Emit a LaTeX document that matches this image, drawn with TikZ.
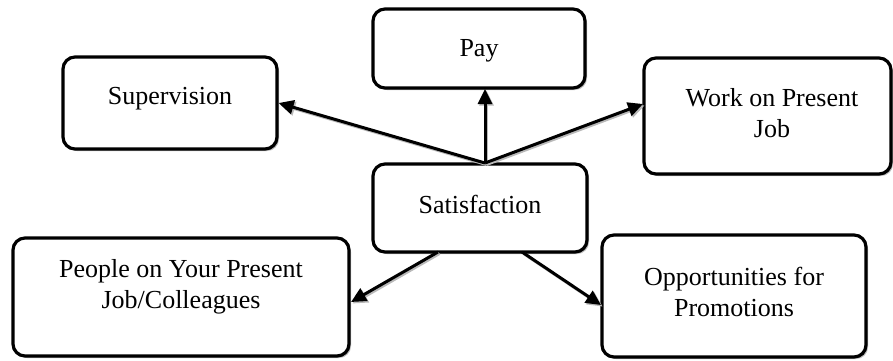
\documentclass[tikz,border=0pt]{standalone}
\usepackage{fontspec}
\setmainfont{Liberation Serif}
\usetikzlibrary{arrows.meta,shadows}
\begin{document}
\begin{tikzpicture}[x=1pt,y=-1pt,
  box/.style={draw, line width=3.2pt, rounded corners=12pt, fill=white, inner sep=0pt,
    drop shadow={shadow xshift=2pt, shadow yshift=-2pt, fill=gray!55, opacity=1}},
  lbl/.style={font=\fontsize{26}{31}\selectfont, align=center, inner sep=0pt, anchor=base},
  arr/.style={line width=3pt, -{Triangle[length=15pt,width=14pt]}},
  arrsh/.style={line width=3pt, draw=gray!55, -{Triangle[length=15pt,width=14pt]},
    transform canvas={shift={(1.5pt,-1.5pt)}}}]
\useasboundingbox (0,0) rectangle (893,360);
% boxes
\node[box, minimum width=212pt, minimum height=79pt] (pay) at (479,48.5) {};
\node[box, minimum width=214pt, minimum height=92pt] (sup) at (170,103) {};
\node[box, minimum width=247pt, minimum height=116pt] (work) at (767.5,116) {};
\node[box, minimum width=214pt, minimum height=88pt] (sat) at (480,208) {};
\node[box, minimum width=336pt, minimum height=118pt] (ppl) at (181,297) {};
\node[box, minimum width=264pt, minimum height=122pt] (opp) at (734,296) {};
% labels
\node[lbl] (tpay) at (479,56) {Pay};
\node[lbl] (tsup) at (170,104) {Supervision};
\node[lbl] (tsat) at (480,213) {Satisfaction};
\node[lbl] (twork) at (772,137) {Work on Present\\Job};
\node[lbl] (tppl) at (181,308) {People on Your Present\\Job/Colleagues};
\node[lbl] (topp) at (734,316) {Opportunities for\\Promotions};
% connector coordinates
\coordinate (s1) at (485,163);
\coordinate (s2) at (438,252);
\coordinate (s3) at (522,252);
\coordinate (epay) at (485,89);
\coordinate (ework) at (643,104);
\coordinate (eppl) at (351,302);
\coordinate (eopp) at (601,305);
% arrow shadows
\draw[arrsh] (s1) -- (epay);
\draw[arrsh] (s1) -- (sup.east);
\draw[arrsh] (s1) -- (ework);
\draw[arrsh] (s2) -- (eppl);
\draw[arrsh] (s3) -- (eopp);
% arrows
\draw[arr] (s1) -- (epay);
\draw[arr] (s1) -- (sup.east);
\draw[arr] (s1) -- (ework);
\draw[arr] (s2) -- (eppl);
\draw[arr] (s3) -- (eopp);
\end{tikzpicture}
\end{document}
